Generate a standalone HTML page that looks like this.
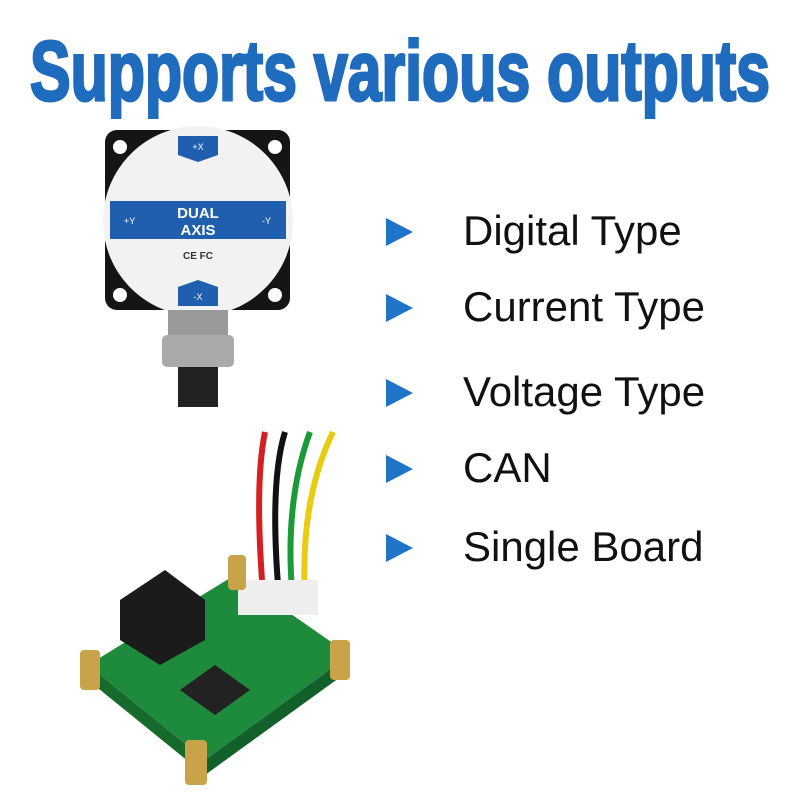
<!DOCTYPE html>
<html><head><meta charset="utf-8"><style>
html,body{margin:0;padding:0;background:#fff}
#c{position:relative;width:800px;height:800px;overflow:hidden;font-family:"Liberation Sans",sans-serif}
.b{position:absolute;left:463px;font-size:42px;color:#111;white-space:nowrap}
.tri{position:absolute;left:386px;width:0;height:0;border-top:14px solid transparent;border-bottom:14px solid transparent;border-left:27px solid #1f74c8}
</style></head><body><div id="c">
<svg width="800" height="800" style="position:absolute;left:0;top:0">
<text x="30" y="100" font-family="Liberation Sans, sans-serif" font-weight="bold" font-size="84" fill="#1f6bbd" textLength="740" lengthAdjust="spacingAndGlyphs" stroke="#1f6bbd" stroke-width="3">Supports various outputs</text>
<rect x="105" y="130" width="185" height="180" rx="12" fill="#151515"/>
<circle cx="120" cy="147" r="7" fill="#fff"/><circle cx="275" cy="147" r="7" fill="#fff"/>
<circle cx="120" cy="295" r="7" fill="#fff"/><circle cx="275" cy="295" r="7" fill="#fff"/>
<circle cx="198" cy="221" r="95" fill="#f2f2f2"/>
<rect x="110" y="201" width="176" height="38" fill="#1f5fae"/>
<polygon points="178,136 218,136 218,155 198,162 178,155" fill="#1f5fae"/>
<polygon points="178,287 198,280 218,287 218,306 178,306" fill="#1f5fae"/>
<text x="198" y="150" font-size="9" fill="#fff" text-anchor="middle">+X</text>
<text x="198" y="300" font-size="9" fill="#fff" text-anchor="middle">-X</text>
<text x="124" y="224" font-size="9" fill="#fff">+Y</text>
<text x="262" y="224" font-size="9" fill="#fff">-Y</text>
<text x="198" y="218" font-size="15" font-weight="bold" fill="#fff" text-anchor="middle">DUAL</text>
<text x="198" y="235" font-size="15" font-weight="bold" fill="#fff" text-anchor="middle">AXIS</text>
<text x="198" y="259" font-size="10" font-weight="bold" fill="#333" text-anchor="middle">CE FC</text>
<rect x="168" y="310" width="60" height="25" fill="#999"/>
<rect x="162" y="335" width="72" height="32" rx="5" fill="#aaa"/>
<rect x="178" y="367" width="40" height="40" fill="#222"/>
<path d="M265 432 Q255 480 262 580" stroke="#d42020" stroke-width="6" fill="none"/>
<path d="M285 432 Q270 480 278 585" stroke="#111" stroke-width="6" fill="none"/>
<path d="M310 432 Q285 500 292 590" stroke="#1c9a3a" stroke-width="6" fill="none"/>
<path d="M333 432 Q300 500 305 595" stroke="#e8cc10" stroke-width="6" fill="none"/>
<polygon points="88,665 235,575 350,655 205,760" fill="#1e8a3c"/>
<polygon points="88,665 205,760 205,775 88,680" fill="#166b2c"/>
<polygon points="205,760 350,655 350,670 205,775" fill="#12602a"/>
<rect x="238" y="580" width="80" height="35" fill="#eee"/>
<polygon points="120,600 165,570 205,600 205,640 160,665 120,640" fill="#1b1b1b"/>
<polygon points="180,690 215,665 250,690 215,715" fill="#222"/>
<rect x="80" y="650" width="20" height="40" rx="4" fill="#c9a34a"/>
<rect x="228" y="555" width="18" height="35" rx="4" fill="#c9a34a"/>
<rect x="330" y="640" width="20" height="40" rx="4" fill="#c9a34a"/>
<rect x="185" y="740" width="22" height="45" rx="4" fill="#c9a34a"/>
</svg>
<div class="tri" style="top:218px"></div><div class="b" style="top:207px">Digital Type</div>
<div class="tri" style="top:294px"></div><div class="b" style="top:283px">Current Type</div>
<div class="tri" style="top:379px"></div><div class="b" style="top:368px">Voltage Type</div>
<div class="tri" style="top:455px"></div><div class="b" style="top:444px">CAN</div>
<div class="tri" style="top:534px"></div><div class="b" style="top:523px">Single Board</div>
</div></body></html>
